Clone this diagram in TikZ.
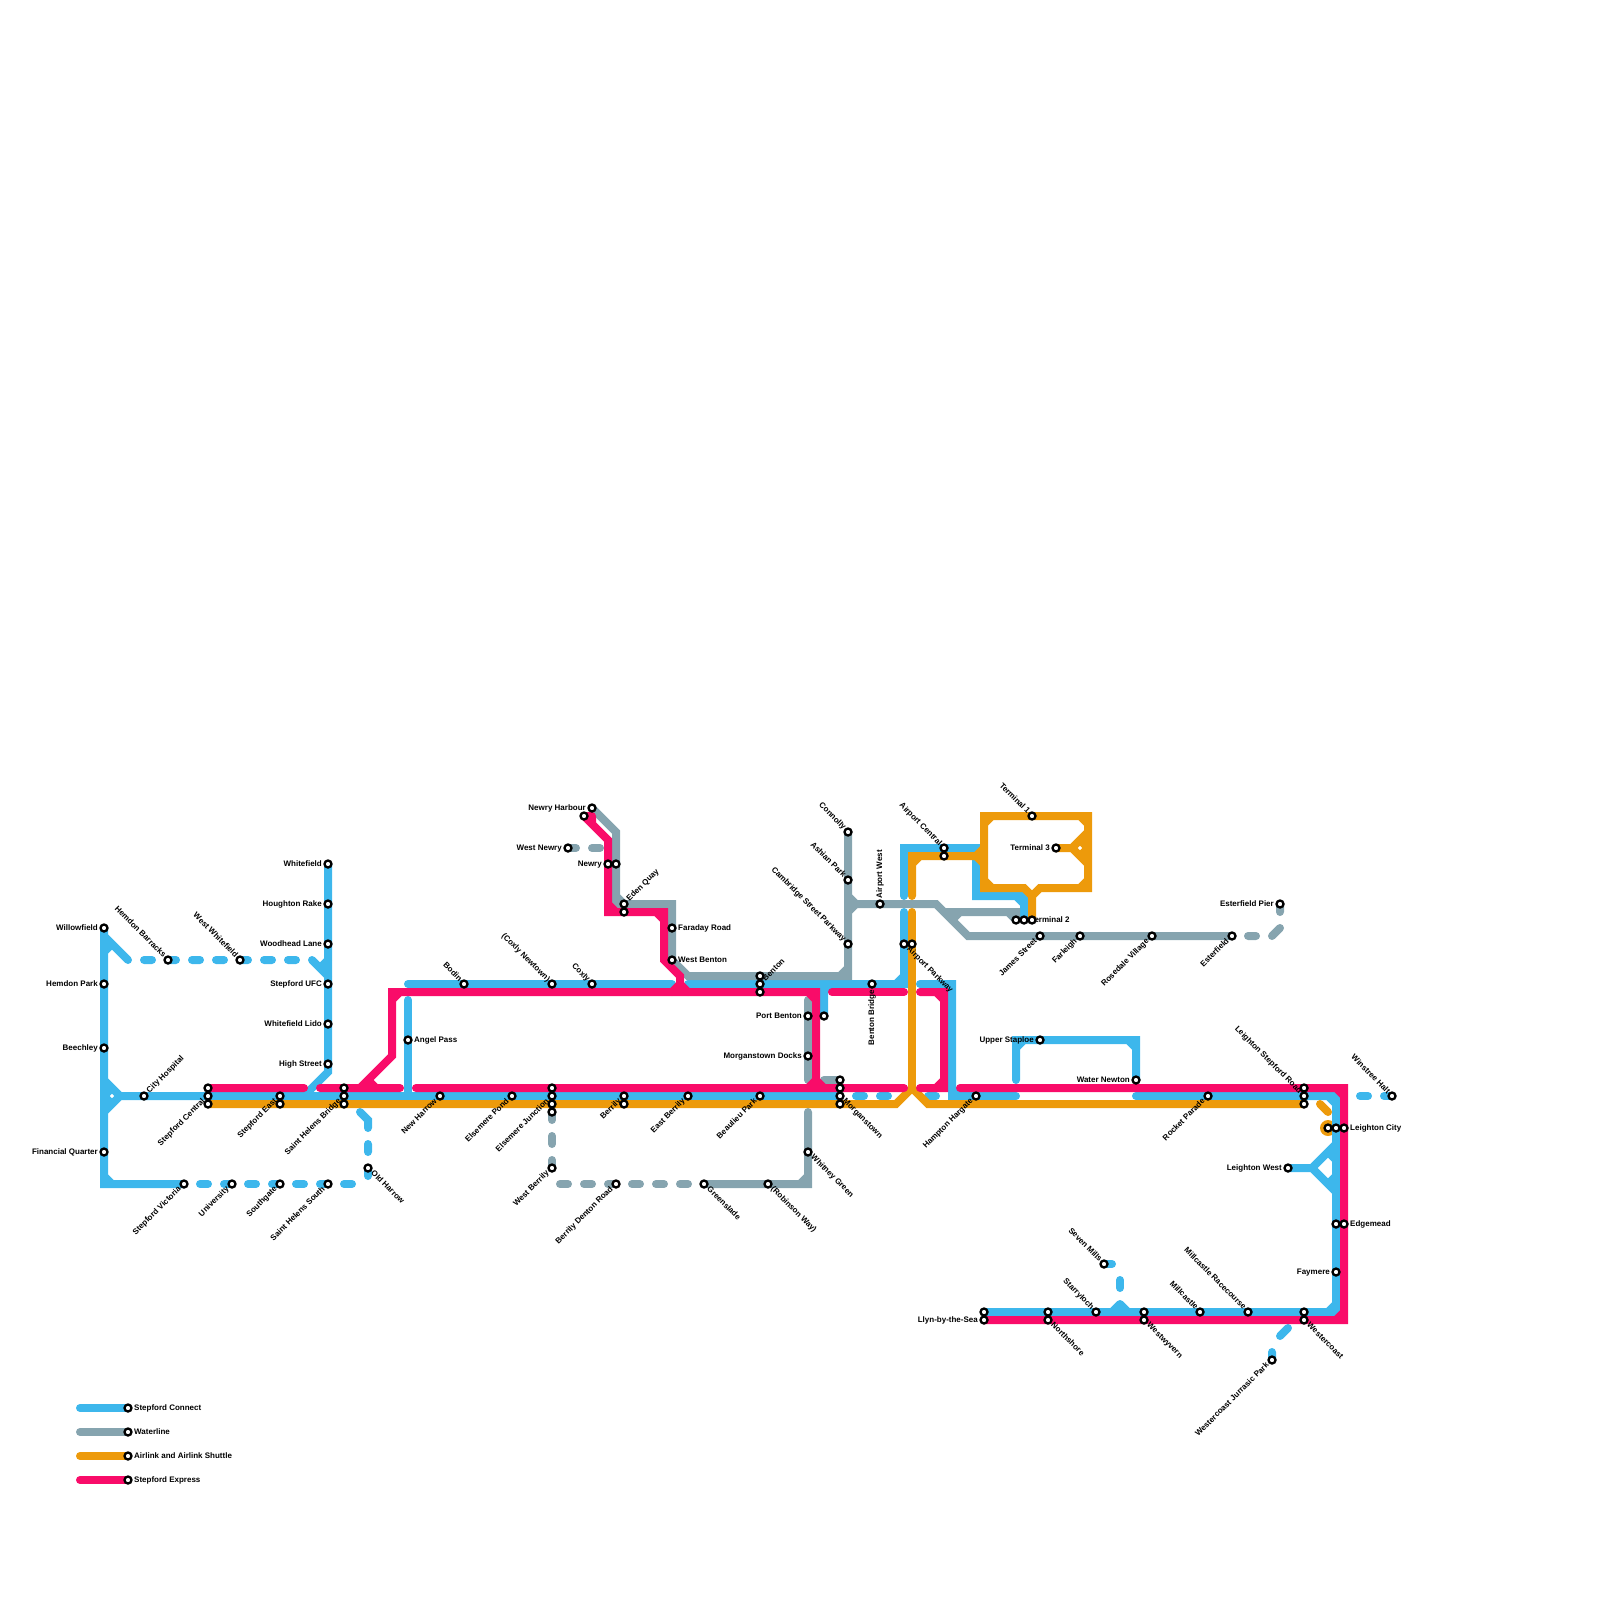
\documentclass[tikz,border=0pt]{standalone}
\usepackage{fontspec}
\setmainfont{Liberation Sans}
\usetikzlibrary{backgrounds}
\definecolor{cBlue}{HTML}{3DB7EC}
\definecolor{cGray}{HTML}{86A4AF}
\definecolor{cOrange}{HTML}{ED9A0B}
\definecolor{cRed}{HTML}{F90C69}
\tikzset{
 sta/.style={circle,draw=black,fill=white,line width=1.15pt,minimum size=3.5pt,inner sep=0pt,outer sep=0pt},
 lab/.style={font=\fontsize{4pt}{5pt}\selectfont\bfseries,inner sep=0pt,outer sep=0pt,text=black,text height=2.9pt,text depth=0.8pt},
 lL/.style={lab,anchor=east,xshift=-3.1pt,yshift=-0.25pt},
 lR/.style={lab,anchor=west,xshift=3.1pt,yshift=-0.25pt},
 lTL/.style={lab,anchor=east,xshift=-1.8pt,yshift=1.8pt,rotate=-45},
 lTR/.style={lab,anchor=west,xshift=2.1pt,yshift=2.0pt,rotate=45},
 lBL/.style={lab,anchor=east,xshift=-2.1pt,yshift=-2.1pt,rotate=45},
 lBR/.style={lab,anchor=west,xshift=2.1pt,yshift=-2.1pt,rotate=-45},
 lT/.style={lab,anchor=west,yshift=3pt,rotate=90},
 lB/.style={lab,anchor=east,yshift=-3pt,rotate=90},
 tr/.style={line width=4pt,line cap=round,line join=miter},
 bl/.style={tr,draw=cBlue},
 gr/.style={tr,draw=cGray},
 og/.style={tr,draw=cOrange},
 rd/.style={tr,draw=cRed},
}
\newcommand{\stn}[4]{\node[sta] (#1) at (#2) {}; \node[#3] (#1-t) at (#2) {#4};}
\newcommand{\stp}[2]{\node[sta] (#1) at (#2) {};}
\begin{document}
\begin{tikzpicture}[x=0.5pt,y=-0.5pt]
\useasboundingbox (0,0) rectangle (1600,1600);
% stations
\stn{willow}{104,928}{lL}{Willowfield}
\stn{hemdon}{104,984}{lL}{Hemdon Park}
\stn{beech}{104,1048}{lL}{Beechley}
\stn{finq}{104,1152}{lL}{Financial Quarter}
\stn{vict}{184,1184}{lBL}{Stepford Victoria}
\stn{cityh}{144,1096}{lTR}{City Hospital}
\stn{hemb}{168,960}{lTL}{Hemdon Barracks}
\stn{wwhite}{240,960}{lTL}{West Whitefield}
\stp{scA}{208,1088}
\stn{scB}{208,1096}{lBL}{Stepford Central}
\stp{scC}{208,1104}
\stn{seA}{280,1096}{lBL}{Stepford East}
\stp{seB}{280,1104}
\stp{shA}{344,1088}
\stn{shB}{344,1096}{lBL}{Saint Helens Bridge}
\stp{shC}{344,1104}
\stn{whitef}{328,864}{lL}{Whitefield}
\stn{hough}{328,904}{lL}{Houghton Rake}
\stn{woodh}{328,944}{lL}{Woodhead Lane}
\stn{sufc}{328,984}{lL}{Stepford UFC}
\stn{wlido}{328,1024}{lL}{Whitefield Lido}
\stn{highs}{328,1064}{lL}{High Street}
\stn{angel}{408,1040}{lR}{Angel Pass}
\stn{oldh}{368,1168}{lBR}{Old Harrow}
\stn{univ}{232,1184}{lBL}{University}
\stn{south}{280,1184}{lBL}{Southgate}
\stn{shs}{328,1184}{lBL}{Saint Helens South}
\stn{newh}{440,1096}{lBL}{New Harrow}
\stn{bodin}{464,984}{lTL}{Bodin}
\stn{coxn}{552,984}{lTL}{(Coxly Newtown)}
\stn{coxly}{592,984}{lTL}{Coxly}
\stn{harb}{592,808}{lL}{Newry Harbour}
\stp{harbr}{584,816}
\stn{wnewry}{568,848}{lL}{West Newry}
\stn{newryA}{608,864}{lL}{Newry}
\stp{newryB}{616,864}
\stn{edenA}{624,904}{lTR}{Eden Quay}
\stp{edenB}{624,912}
\stn{faraday}{672,928}{lR}{Faraday Road}
\stn{wbent}{672,960}{lR}{West Benton}
\stp{bentA}{760,976}
\stn{bentB}{760,984}{lTR}{Benton}
\stp{bentC}{760,992}
\stn{portb}{808,1016}{lL}{Port Benton}
\stp{portc}{824,1016}
\stn{mdocks}{808,1056}{lL}{Morganstown Docks}
\stn{elpond}{512,1096}{lBL}{Elsemere Pond}
\stp{ejA}{552,1088}
\stn{ejB}{552,1096}{lBL}{Elsemere Junction}
\stp{ejC}{552,1104}
\stp{ejD}{552,1112}
\stn{berA}{624,1096}{lBL}{Berrily}
\stp{berB}{624,1104}
\stn{eber}{688,1096}{lBL}{East Berrily}
\stn{beau}{760,1096}{lBL}{Beaulieu Park}
\stp{mA}{840,1080}
\stp{mB}{840,1088}
\stn{mC}{840,1096}{lBR}{Morganstown}
\stp{mD}{840,1104}
\stn{wberr}{552,1168}{lBL}{West Berrily}
\stn{bdr}{616,1184}{lBL}{Berrily Denton Road}
\stn{green}{704,1184}{lBR}{Greenslade}
\stn{robin}{768,1184}{lBR}{(Robinson Way)}
\stn{whit}{808,1152}{lBR}{Whitney Green}
\stn{conn}{848,832}{lTL}{Connolly}
\stn{ashian}{848,880}{lTL}{Ashian Park}
\stn{camb}{848,944}{lTL}{Cambridge Street Parkway}
\stn{awest}{880,904}{lT}{Airport West}
\stn{bbr}{872,984}{lB}{Benton Bridge}
\stn{apA}{904,944}{lBR}{Airport Parkway}
\stp{apB}{912,944}
\stn{acA}{944,848}{lTL}{Airport Central}
\stp{acB}{944,856}
\stn{tone}{1032,816}{lTL}{Terminal 1}
\stn{tthree}{1056,848}{lL}{Terminal 3}
\stp{ttwoA}{1016,920}
\stn{ttwoB}{1024,920}{lR}{Terminal 2}
\stp{ttwoC}{1032,920}
\stn{james}{1040,936}{lBL}{James Street}
\stn{farl}{1080,936}{lBL}{Farleigh}
\stn{rose}{1152,936}{lBL}{Rosedale Village}
\stn{est}{1232,936}{lBL}{Esterfield}
\stn{estp}{1280,904}{lL}{Esterfield Pier}
\stn{ustap}{1040,1040}{lL}{Upper Staploe}
\stn{water}{1136,1080}{lL}{Water Newton}
\stn{hamp}{976,1096}{lBL}{Hampton Hargate}
\stn{rock}{1208,1096}{lBL}{Rocket Parade}
\stp{lsA}{1304,1088}
\stn{lsB}{1304,1096}{lTL}{Leighton Stepford Road}
\stp{lsC}{1304,1104}
\stn{win}{1392,1096}{lTL}{Winstree Halt}
\stp{lcA}{1328,1128}
\stp{lcB}{1336,1128}
\stn{lcC}{1344,1128}{lR}{Leighton City}
\stn{lwest}{1288,1168}{lL}{Leighton West}
\stp{edA}{1336,1224}
\stn{edB}{1344,1224}{lR}{Edgemead}
\stn{fay}{1336,1272}{lL}{Faymere}
\stp{llA}{984,1312}
\stn{llB}{984,1320}{lL}{Llyn-by-the-Sea}
\stp{nsA}{1048,1312}
\stn{nsB}{1048,1320}{lBR}{Northshore}
\stn{star}{1096,1312}{lTL}{Starryloch}
\stn{seven}{1104,1264}{lTL}{Seven Mills}
\stp{wwA}{1144,1312}
\stn{wwB}{1144,1320}{lBR}{Westwyvern}
\stn{mill}{1200,1312}{lTL}{Millcastle}
\stn{mrc}{1248,1312}{lTL}{Millcastle Racecourse}
\stp{wcA}{1304,1312}
\stn{wcB}{1304,1320}{lBR}{Westercoast}
\stn{wjp}{1272,1360}{lBL}{Westercoast Jurrasic Park}
\stn{keyA}{128,1408}{lR}{Stepford Connect}
\stn{keyB}{128,1432}{lR}{Waterline}
\stn{keyC}{128,1456}{lR}{Airlink and Airlink Shuttle}
\stn{keyD}{128,1480}{lR}{Stepford Express}
\begin{scope}[on background layer]
% Legend
\draw[bl] (80,1408) -- (keyA.center);
\draw[gr] (80,1432) -- (keyB.center);
\draw[og] (80,1456) -- (keyC.center);
\draw[rd] (80,1480) -- (keyD.center);
% orange blob under blue
\fill[cOrange] (lcA.center) circle[radius=8];
% Blue
\draw[bl] (willow.center) -- (104,1184) -- (vict.center) (104,1176) -- (112,1184)
  (104,936) -- (128,960) (104,952) -- (112,944)
  (104,1080) -- (120,1096) -- (104,1112) (120,1096) -- (mC.center)
  (104,1088) -- (112,1088) (112,1088) -- (104,1096) (104,1096) -- (112,1104) (112,1104) -- (104,1104);
\draw[bl] (144,960) -- (152,960) (hemb.center) -- (176,960) (192,960) -- (200,960) (216,960) -- (224,960)
  (wwhite.center) -- (248,960) (264,960) -- (272,960) (288,960) -- (296,960)
  (312,960) -- (328,976) (320,968) -- (328,960);
\draw[bl] (whitef.center) -- (328,1072) -- (304,1096);
\draw[bl] (360,1112) -- (368,1120) -- (368,1128) (368,1144) -- (368,1152) (oldh.center) -- (368,1176);
\draw[bl] (200,1184) -- (208,1184) (univ.center) -- (224,1184) (248,1184) -- (256,1184) (south.center) -- (272,1184)
  (296,1184) -- (304,1184) (shs.center) -- (320,1184) (344,1184) -- (352,1184);
\draw[bl] (408,1000) -- (408,1096);
\draw[bl] (408,984) -- (672,984);
\draw[bl] (688,984) -- (904,984) -- (904,912) (896,984) -- (904,976);
\draw[bl] (824,984) -- (portc.center) (816,984) -- (824,992) (832,984) -- (824,992);
\draw[bl] (904,896) -- (904,848) -- (976,848) -- (976,896) -- (1024,896) -- (ttwoB.center)
  (904,856) -- (912,848) (1016,896) -- (1024,904);
\draw[bl] (920,984) -- (952,984) -- (952,1096) -- (1016,1096) (944,984) -- (952,992) (952,1088) -- (960,1096);
\draw[bl] (856,1096) -- (864,1096) (880,1096) -- (888,1096) (928,1096) -- (936,1096);
\draw[bl] (1016,1080) -- (1016,1040) -- (1136,1040) -- (water.center) (1016,1048) -- (1024,1040) (1128,1040) -- (1136,1048);
\draw[bl] (1136,1096) -- (1336,1096) -- (1336,1312) -- (llA.center) (1328,1096) -- (1336,1104) (1336,1304) -- (1328,1312);
\draw[bl] (1360,1096) -- (1368,1096) (1384,1096) -- (win.center);
\draw[bl] (lwest.center) -- (1312,1168) (1336,1144) -- (1312,1168) -- (1336,1192)
  (1328,1152) -- (1336,1160) (1336,1176) -- (1328,1184);
\draw[bl] (seven.center) -- (1112,1264) (1120,1280) -- (1120,1288);
\draw[bl,line join=round] (1112,1312) -- (1120,1304) -- (1128,1312);
\draw[bl] (1288,1328) -- (1280,1336) (1272,1352) -- (wjp.center);
% Gray
\draw[gr] (harb.center) -- (616,832) -- (616,904) -- (672,904) -- (672,960) -- (688,976) -- (848,976) -- (conn.center)
  (616,896) -- (624,904) (664,904) -- (672,912) (840,976) -- (848,968)
  (848,896) -- (856,904) (848,912) -- (856,904);
\draw[gr] (856,904) -- (936,904) -- (968,936) -- (est.center);
\draw[gr] (944,912) -- (1016,912) -- (ttwoA.center) (952,920) -- (960,912) (1008,912) -- (1016,920);
\draw[gr] (1248,936) -- (1256,936) (1272,936) -- (1280,928) (estp.center) -- (1280,912);
\draw[gr] (808,1000) -- (808,1080) (824,1080) -- (mA.center);
\draw[gr] (808,1112) -- (808,1184) -- (green.center) (808,1176) -- (800,1184);
\draw[gr] (560,1184) -- (568,1184) (584,1184) -- (592,1184) (608,1184) -- (bdr.center) (632,1184) -- (640,1184)
  (656,1184) -- (664,1184) (680,1184) -- (688,1184);
\draw[gr] (ejD.center) -- (552,1120) (552,1136) -- (552,1144) (552,1160) -- (wberr.center);
\draw[gr] (wnewry.center) -- (576,848) (592,848) -- (600,848);
% Orange
\draw[og] (scC.center) -- (896,1104) -- (912,1088) -- (928,1104) -- (lsC.center);
\draw[og] (912,1088) -- (912,912);
\draw[og] (912,896) -- (912,856) -- (976,856) (912,864) -- (920,856) (976,856) -- (984,848) (976,856) -- (984,864);
\draw[og] (984,816) -- (1088,816) -- (1088,888) -- (1040,888) -- (1032,896) -- (1024,888) -- (984,888) -- cycle
  (984,824) -- (992,816) (1080,816) -- (1088,824) (1088,880) -- (1080,888) (984,880) -- (992,888)
  (1032,896) -- (ttwoC.center)
  (tthree.center) -- (1072,848) (1088,832) -- (1072,848) -- (1088,864)
  (1088,840) -- (1080,840) (1080,840) -- (1088,848) (1088,848) -- (1080,856) (1080,856) -- (1088,856);
\draw[og] (1320,1104) -- (1328,1112);
% Red
\draw[rd] (scA.center) -- (304,1088) (320,1088) -- (400,1088) (416,1088) -- (904,1088) (920,1088) -- (944,1088) -- (944,992) -- (920,992)
  (936,992) -- (944,1000) (944,1080) -- (936,1088);
\draw[rd] (360,1088) -- (392,1056) -- (392,992) -- (816,992) -- (816,1080) (392,1000) -- (400,992)
  (368,1080) -- (376,1088) (808,992) -- (816,1000) (816,1080) -- (808,1088) (816,1080) -- (824,1088);
\draw[rd] (832,992) -- (904,992);
\draw[rd] (960,1088) -- (1344,1088) -- (1344,1320) -- (llB.center) (1336,1088) -- (1344,1096) (1344,1312) -- (1336,1320);
\draw[rd] (harbr.center) -- (608,840) -- (608,912) -- (664,912) -- (664,960) -- (680,976) -- (680,984) -- (672,992) (680,984) -- (688,992)
  (harbr.center) -- (592,816) (592,816) -- (592,824) (608,904) -- (616,912) (656,912) -- (664,920);
\end{scope}
\end{tikzpicture}
\end{document}
